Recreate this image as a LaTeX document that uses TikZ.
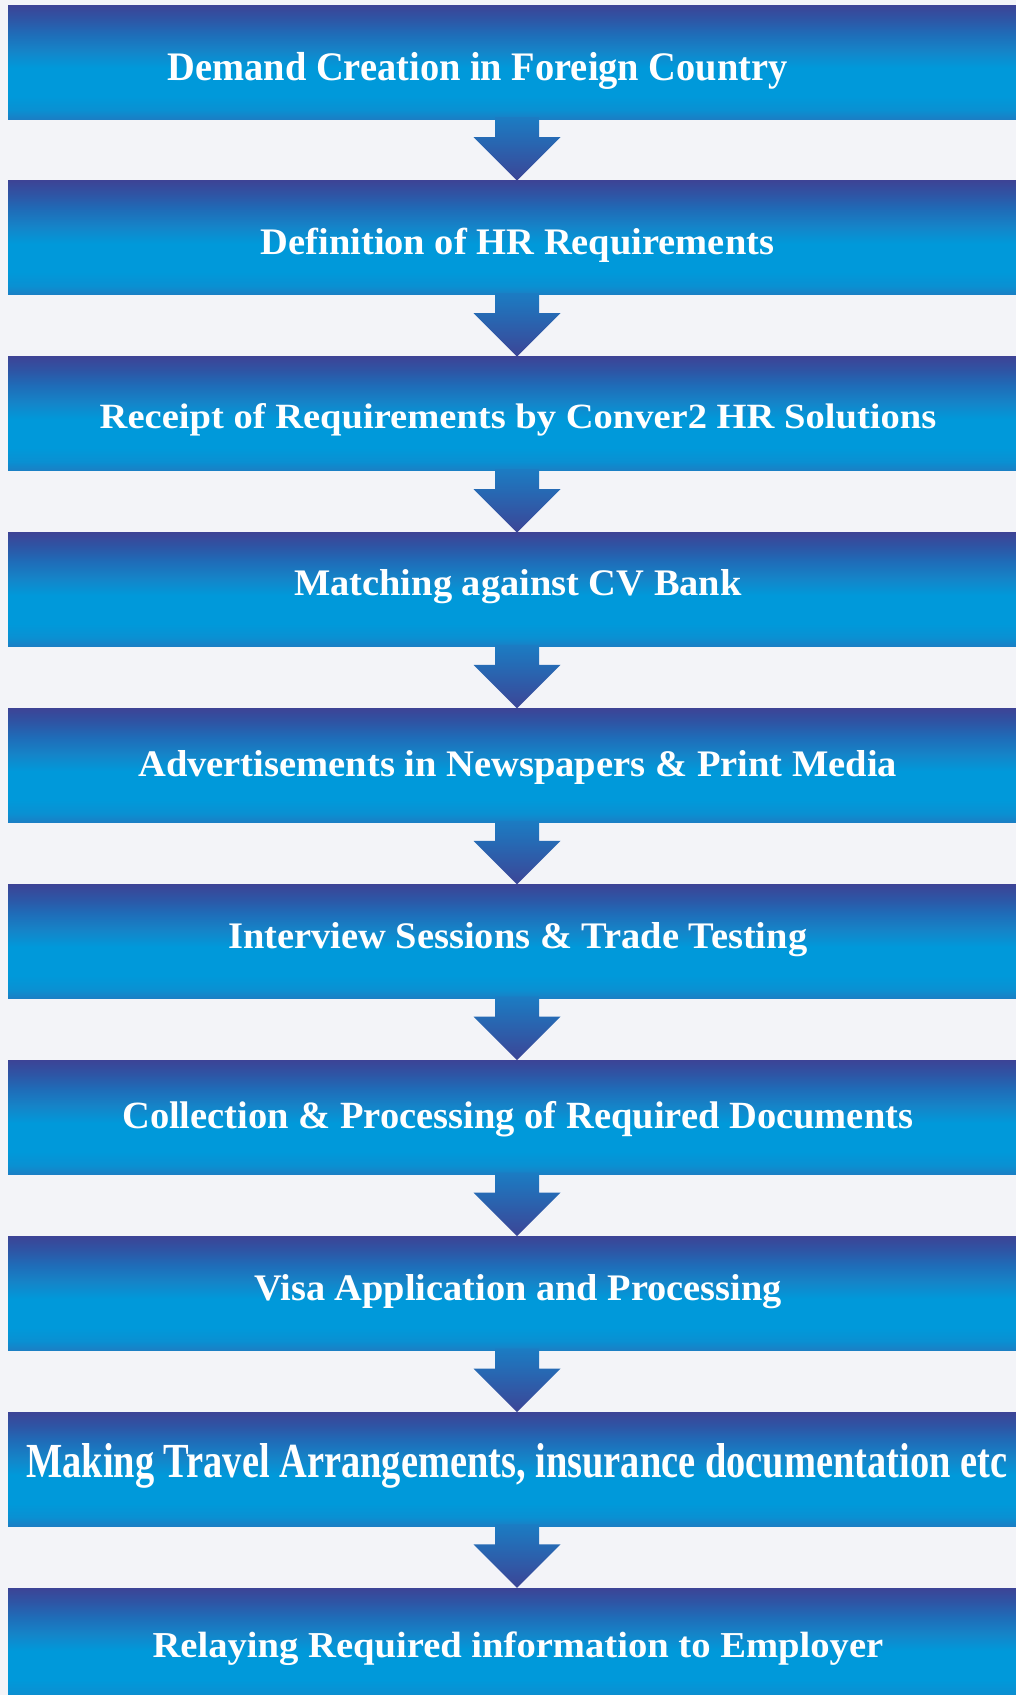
\documentclass[tikz,border=0pt]{standalone}
\usepackage{fontspec}
\usepackage{graphicx}
\setmainfont{Liberation Serif}
\usetikzlibrary{calc}
\definecolor{bgc}{HTML}{F3F4F8}
\definecolor{cA}{HTML}{1B7EC4}
\definecolor{cB}{HTML}{0A90D2}
\definecolor{cC}{HTML}{0099DA}
\definecolor{cD}{HTML}{1584C8}
\definecolor{cE}{HTML}{1F6CB8}
\definecolor{cF}{HTML}{2E55A5}
\definecolor{cG}{HTML}{3C4496}
\definecolor{arTop}{HTML}{1B7CC3}
\definecolor{arBot}{HTML}{3C4596}
\pgfdeclareverticalshading{boxshade}{100bp}{color(0bp)=(cA); color(25bp)=(cA); color(29bp)=(cB); color(35bp)=(cC); color(47.5bp)=(cC); color(55bp)=(cD); color(62.5bp)=(cE); color(69bp)=(cF); color(75bp)=(cG); color(100bp)=(cG)}
\tikzset{
  stepbox/.style={rectangle, inner sep=0pt, minimum width=1018pt, minimum height=114pt, shading=boxshade, draw=none},
  steptext/.style={anchor=base west, inner sep=0pt, text=white, font=\bfseries\fontsize{37.5}{38}\selectfont},
  downarrow/.style={top color=arTop, bottom color=arBot, draw=none}
}
\begin{document}
\begin{tikzpicture}[x=1pt, y=-1pt]
\useasboundingbox (0,0) rectangle (1016,1695);
\clip (0,0) rectangle (1016,1695);
\fill[bgc] (0,0) rectangle (1016,1695);
% boxes
\foreach \i in {1,...,10} {
  \node[stepbox] (b\i) at (517, {5 + 175.9*(\i-1) + 57}) {};
}
% arrows
\foreach \i [evaluate=\i as \j using int(\i+1)] in {1,...,9} {
  \path[downarrow] ($(b\i.south)+(-22,0)$) -- ++(0,18) -- ++(-21.5,0) -- (b\j.north)
     -- ($(b\i.south)+(43.5,18)$) -- ++(-21.5,0) -- ($(b\i.south)+(22,-2)$) -- ($(b\i.south)+(-22,-2)$) -- cycle;
}
% texts
\node[steptext, font=\bfseries\fontsize{40.5}{41}\selectfont] (t1) at (167.5,80) {\resizebox{620pt}{\height}{Demand Creation in Foreign Country}};
\node[steptext] (t2) at (260.5,254) {\resizebox{513.5pt}{\height}{Definition of HR Requirements}};
\node[steptext, font=\bfseries\fontsize{35.5}{36}\selectfont] (t3) at (99.5,428) {\resizebox{836.6pt}{\height}{Receipt of Requirements by Conver2 HR Solutions}};
\node[steptext] (t4) at (294,595) {\resizebox{447.5pt}{\height}{Matching against CV Bank}};
\node[steptext] (t5) at (138,776) {\resizebox{759pt}{\height}{Advertisements in Newspapers \& Print Media}};
\node[steptext] (t6) at (228,948) {\resizebox{579pt}{\height}{Interview Sessions \& Trade Testing}};
\node[steptext, font=\bfseries\fontsize{38.5}{39}\selectfont] (t7) at (122,1128) {\resizebox{791pt}{\height}{Collection \& Processing of Required Documents}};
\node[steptext] (t8) at (254,1300) {\resizebox{527.5pt}{\height}{Visa Application and Processing}};
\node[steptext, font=\bfseries\fontsize{49}{50}\selectfont] (t9) at (26,1477) {\resizebox{981pt}{\height}{Making Travel Arrangements, insurance documentation etc}};
\node[steptext, font=\bfseries\fontsize{36.5}{37}\selectfont] (t10) at (152.4,1657) {\resizebox{730.7pt}{\height}{Relaying Required information to Employer}};
\end{tikzpicture}
\end{document}
